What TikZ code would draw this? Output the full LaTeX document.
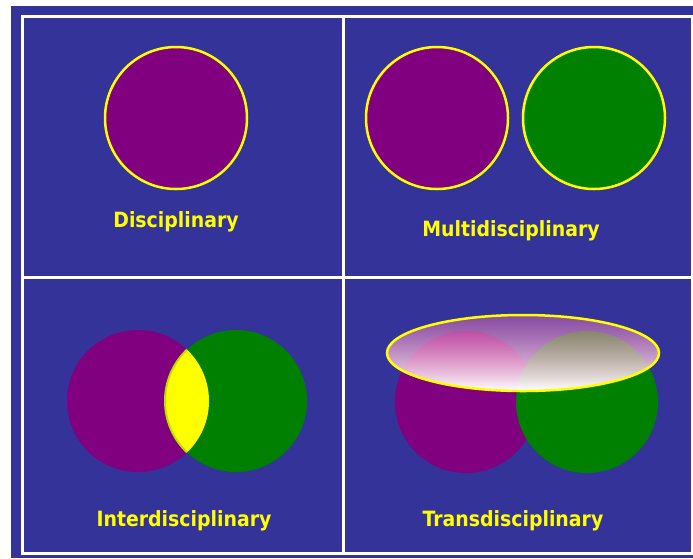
\documentclass[tikz,border=0pt]{standalone}
\usepackage{fontspec}
\setmainfont{DejaVu Sans}
\newfontfamily\lblfont{DejaVu Sans Condensed}
\usetikzlibrary{fadings}
\definecolor{bgblue}{RGB}{51,51,153}
\definecolor{purp}{RGB}{128,0,128}
\definecolor{grn}{RGB}{0,128,0}
\definecolor{yel}{RGB}{255,255,0}
\definecolor{ellpink}{RGB}{235,110,175}
\tikzfading[name=ellfade, top color=transparent!55, middle color=transparent!35, bottom color=transparent!0]
\begin{document}
\begin{tikzpicture}[x=1pt,y=-1pt,
  lbl/.style={text=yel, font=\lblfont\fontsize{21}{21}\selectfont\bfseries, inner sep=0pt},
  frameline/.style={draw=white, line width=3pt},
  disk/.style={circle, minimum size=142pt, inner sep=0pt, outer sep=0pt},
  ring/.style={draw=yel, line width=2.5pt}]
\useasboundingbox (0,0) rectangle (693,558);
\fill[bgblue] (11,6) rectangle (693,558);
\draw[frameline] (22,16) rectangle (692,553);
\draw[frameline] (343,16) -- (343,553);
\draw[frameline] (22,277) -- (692,277);

% Disciplinary
\node[disk, fill=purp, ring] (d1) at (176,118) {};
\node[lbl] (t1) at (176,222) {Disciplinary};

% Multidisciplinary
\node[disk, fill=purp, ring] (m1) at (437,118) {};
\node[disk, fill=grn, ring] (m2) at (594,118) {};
\node[lbl] (t2) at (511,231) {Multidisciplinary};

% Interdisciplinary
\node[disk, fill=purp] (i1) at (138,401) {};
\node[disk, fill=grn] (i2) at (236,401) {};
\begin{scope}
  \clip (138,401) circle (71);
  \fill[yel, draw=yel!75!grn, line width=2pt] (236,401) circle (71);
\end{scope}
\node[lbl] (t3) at (184,521) {Interdisciplinary};

% Transdisciplinary
\node[disk, fill=purp] (r1) at (466,402) {};
\node[disk, fill=grn] (r2) at (587,402) {};
\shade[top color=ellpink, bottom color=white, path fading=ellfade] (523,353) ellipse (136 and 38);
\draw[yel, line width=2.5pt] (523,353) ellipse (136 and 38);
\node[lbl] (t4) at (513,521) {Transdisciplinary};
\end{tikzpicture}
\end{document}
